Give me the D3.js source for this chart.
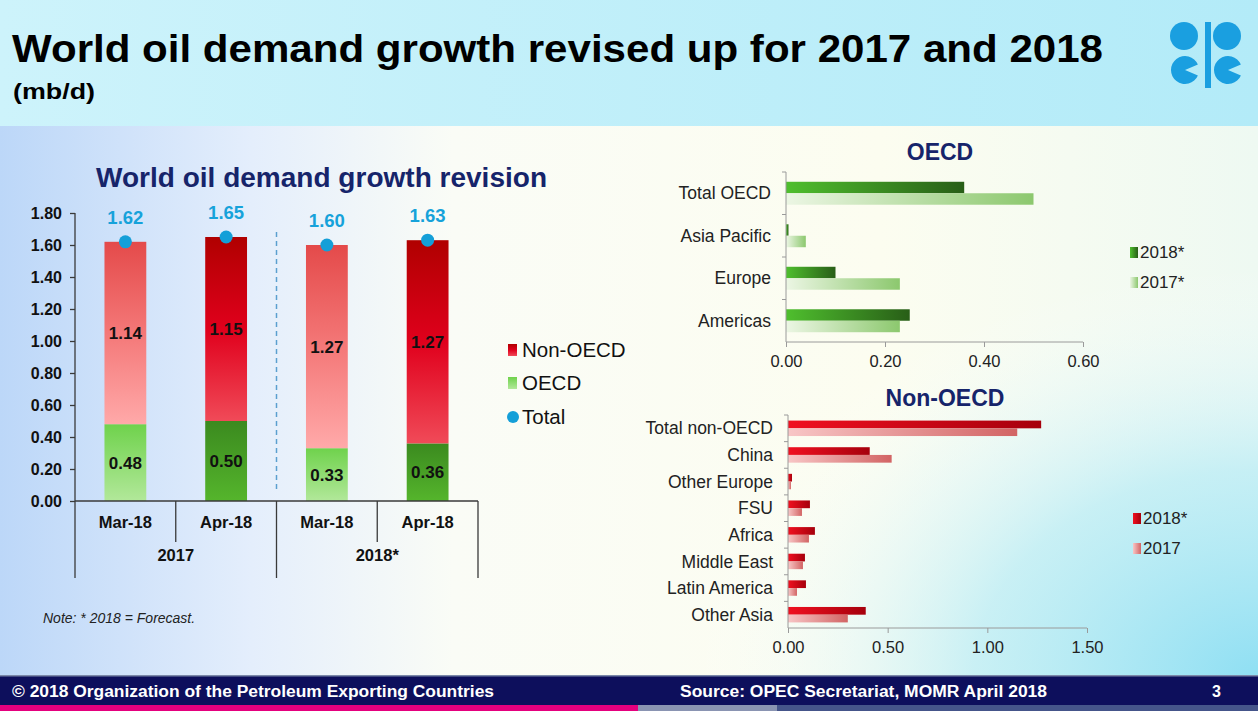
<!DOCTYPE html>
<html><head><meta charset="utf-8">
<script src="https://cdn.jsdelivr.net/npm/d3@7"></script>
<style>body{margin:0;overflow:hidden;background:#fff}svg{display:block;font-family:"Liberation Sans",Arial,sans-serif}</style>
</head><body><svg id="c" width="1258" height="711"></svg>
<script>
// ---------- data ----------
const revisionMonths = ["Mar-18", "Apr-18", "Mar-18", "Apr-18"];
const revisionYears = ["2017", "2018*"];
const oecdRevision = [0.48, 0.50, 0.33, 0.36];
const nonOecdRevision = [1.14, 1.15, 1.27, 1.27];
const totalRevision = [1.62, 1.65, 1.60, 1.63];
const revisionTicks = [0, 0.2, 0.4, 0.6, 0.8, 1.0, 1.2, 1.4, 1.6, 1.8];

const oecdRegions = ["Total OECD", "Asia Pacific", "Europe", "Americas"];
const oecd2018 = [0.36, 0.005, 0.10, 0.25];
const oecd2017 = [0.50, 0.04, 0.23, 0.23];
const oecdTicks = [0, 0.2, 0.4, 0.6];

const nonOecdRegions = ["Total non-OECD", "China", "Other Europe", "FSU", "Africa", "Middle East", "Latin America", "Other Asia"];
const nonOecd2018 = [1.27, 0.41, 0.02, 0.11, 0.135, 0.085, 0.09, 0.39];
const nonOecd2017 = [1.15, 0.52, 0.015, 0.07, 0.105, 0.075, 0.045, 0.30];
const nonOecdTicks = [0, 0.5, 1.0, 1.5];

// ---------- setup ----------
const svg = d3.select("#c");
const defs = svg.append("defs");
function lin(id, stops, x2, y2) {
  const g = defs.append("linearGradient").attr("id", id)
    .attr("x1", 0).attr("y1", 0).attr("x2", x2).attr("y2", y2);
  stops.forEach(s => g.append("stop").attr("offset", s[0]).attr("stop-color", s[1]).attr("stop-opacity", s[2] == null ? 1 : s[2]));
}
lin("hdr", [[0, "#cdf3fb"], [1, "#b3ebf8"]], 1, 0);
lin("body", [[0, "#bcd7f8"], [0.2, "#e4eefc"], [0.36, "#fafcf6"], [0.7, "#fcfdf0"], [1, "#eef9f2"]], 1, 0);
const rg = defs.append("radialGradient").attr("id", "cyan").attr("cx", 1).attr("cy", 1).attr("r", 0.75);
rg.append("stop").attr("offset", 0).attr("stop-color", "#8fdff3").attr("stop-opacity", 1);
rg.append("stop").attr("offset", 0.5).attr("stop-color", "#b5ebf6").attr("stop-opacity", 0.7);
rg.append("stop").attr("offset", 1).attr("stop-color", "#ffffff").attr("stop-opacity", 0);
lin("redLight", [[0, "#e44a4a"], [0.5, "#f47878"], [1, "#ffa9a9"]], 0, 1);
lin("redDark", [[0, "#b00000"], [0.5, "#e0001c"], [1, "#f04a58"]], 0, 1);
lin("grnLight", [[0, "#6fd24c"], [1, "#b2e89a"]], 0, 1);
lin("grnDark", [[0, "#3b8a1f"], [1, "#55b52c"]], 0, 1);
lin("hg18", [[0, "#4fbf2e"], [1, "#285e17"]], 1, 0);
lin("hg17", [[0, "#ecf6e4"], [1, "#8cc86e"]], 1, 0);
lin("hr18", [[0, "#f01020"], [1, "#a6000c"]], 1, 0);
lin("hr17", [[0, "#f8c6c6"], [1, "#d26464"]], 1, 0);

// backgrounds
svg.append("rect").attr("x", 0).attr("y", 0).attr("width", 1258).attr("height", 126).attr("fill", "url(#hdr)");
svg.append("rect").attr("x", 0).attr("y", 126).attr("width", 1258).attr("height", 551).attr("fill", "url(#body)");
svg.append("rect").attr("x", 500).attr("y", 126).attr("width", 758).attr("height", 551).attr("fill", "url(#cyan)");
svg.append("rect").attr("x", 0).attr("y", 676).attr("width", 1258).attr("height", 30).attr("fill", "#0d0f5c");
svg.append("rect").attr("x", 0).attr("y", 675).attr("width", 1258).attr("height", 1.5).attr("fill", "#7b88a8");
svg.append("rect").attr("x", 0).attr("y", 705).attr("width", 638).attr("height", 6).attr("fill", "#e5007e");
svg.append("rect").attr("x", 638).attr("y", 705).attr("width", 139).attr("height", 6).attr("fill", "#8a94b2");
svg.append("rect").attr("x", 777).attr("y", 705).attr("width", 481).attr("height", 6).attr("fill", "#45558a");

// header text
svg.append("text").attr("x", 12).attr("y", 62).attr("font-size", 38).attr("font-weight", "bold").attr("fill", "#000")
  .attr("textLength", 1091).attr("lengthAdjust", "spacingAndGlyphs")
  .text("World oil demand growth revised up for 2017 and 2018");
svg.append("text").attr("x", 13).attr("y", 99).attr("font-size", 22.5).attr("font-weight", "bold").attr("fill", "#000")
  .attr("textLength", 82).attr("lengthAdjust", "spacingAndGlyphs")
  .text("(mb/d)");

// logo
const logo = svg.append("g").attr("fill", "#1a9fe0");
logo.append("circle").attr("cx", 1184).attr("cy", 36).attr("r", 14);
logo.append("circle").attr("cx", 1227).attr("cy", 36).attr("r", 14);
logo.append("rect").attr("x", 1205).attr("y", 22).attr("width", 6).attr("height", 66);
const notch = d3.arc().innerRadius(0).outerRadius(14).startAngle(Math.PI / 2 + 0.4).endAngle(Math.PI / 2 - 0.4 + 2 * Math.PI);
logo.append("path").attr("d", notch()).attr("transform", "translate(1185,70)");
logo.append("path").attr("d", notch()).attr("transform", "translate(1228,70)");

// footer text
svg.append("text").attr("x", 12).attr("y", 697).attr("font-size", 16).attr("font-weight", "bold").attr("fill", "#fff")
  .attr("textLength", 482).attr("lengthAdjust", "spacingAndGlyphs")
  .text("© 2018 Organization of the Petroleum Exporting Countries");
svg.append("text").attr("x", 680).attr("y", 697).attr("font-size", 16).attr("font-weight", "bold").attr("fill", "#fff")
  .attr("textLength", 367).attr("lengthAdjust", "spacingAndGlyphs")
  .text("Source: OPEC Secretariat, MOMR April 2018");
svg.append("text").attr("x", 1212).attr("y", 697).attr("font-size", 16).attr("font-weight", "bold").attr("fill", "#fff").text("3");

// ---------- left chart ----------
const L = svg.append("g");
L.append("text").attr("x", 96).attr("y", 187).attr("font-size", 27.5).attr("font-weight", "bold")
  .attr("textLength", 451).attr("lengthAdjust", "spacingAndGlyphs")
  .attr("fill", "#16246a").text("World oil demand growth revision");

const idx = d3.range(revisionMonths.length);
const xL = d3.scaleBand().domain(idx).range([75, 478]).padding(0);
const yL = d3.scaleLinear().domain([0, 1.8]).range([501, 213]);
const bw = xL.bandwidth() * 0.415;
const bx = i => xL(i) + (xL.bandwidth() - bw) / 2;
const isDark = i => revisionMonths[i] === "Apr-18";

const yAx = L.append("g").attr("transform", "translate(75,0)")
  .call(d3.axisLeft(yL).tickValues(revisionTicks).tickFormat(d3.format(".2f")).tickSize(5).tickPadding(8));
yAx.selectAll("path,line").attr("stroke", "#3a3a3a").attr("stroke-width", 1.3);
yAx.select(".domain").attr("d", `M0,${yL(1.8)}V${yL(0)}`);
yAx.selectAll("text").attr("font-size", 16).attr("font-weight", "bold").attr("fill", "#111").attr("font-family", "Liberation Sans, Arial");

// dashed divider
L.append("line").attr("x1", xL(2)).attr("x2", xL(2)).attr("y1", 232).attr("y2", 492)
  .attr("stroke", "#5b9fcf").attr("stroke-width", 1.5).attr("stroke-dasharray", "5,4");

// bars
idx.forEach(i => {
  L.append("rect").attr("x", bx(i)).attr("width", bw).attr("y", yL(oecdRevision[i])).attr("height", yL(0) - yL(oecdRevision[i]))
    .attr("fill", isDark(i) ? "url(#grnDark)" : "url(#grnLight)");
  const top = oecdRevision[i] + nonOecdRevision[i];
  L.append("rect").attr("x", bx(i)).attr("width", bw).attr("y", yL(top)).attr("height", yL(oecdRevision[i]) - yL(top))
    .attr("fill", isDark(i) ? "url(#redDark)" : "url(#redLight)");
  const cx = xL(i) + xL.bandwidth() / 2;
  L.append("text").attr("x", cx).attr("y", yL(oecdRevision[i] / 2)).attr("dy", "0.36em").attr("text-anchor", "middle")
    .attr("font-size", 17).attr("font-weight", "bold").attr("fill", "#111").text(d3.format(".2f")(oecdRevision[i]));
  L.append("text").attr("x", cx).attr("y", yL(oecdRevision[i] + nonOecdRevision[i] / 2)).attr("dy", "0.36em").attr("text-anchor", "middle")
    .attr("font-size", 17).attr("font-weight", "bold").attr("fill", "#111").text(d3.format(".2f")(nonOecdRevision[i]));
  L.append("circle").attr("cx", cx).attr("cy", yL(totalRevision[i])).attr("r", 6.5).attr("fill", "#149fd8");
  L.append("text").attr("x", cx).attr("y", yL(totalRevision[i]) - 18).attr("text-anchor", "middle")
    .attr("font-size", 18.5).attr("font-weight", "bold").attr("fill", "#16a2da").text(d3.format(".2f")(totalRevision[i]));
});

// category axis
L.append("line").attr("x1", 75).attr("x2", 478).attr("y1", yL(0)).attr("y2", yL(0)).attr("stroke", "#3a3a3a").attr("stroke-width", 1.3);
d3.range(revisionMonths.length + 1).forEach(k => {
  const x = k < revisionMonths.length ? xL(k) : xL.range()[1];
  const long = k % 2 === 0;
  L.append("line").attr("x1", x).attr("x2", x).attr("y1", yL(0)).attr("y2", long ? 578 : 542)
    .attr("stroke", "#3a3a3a").attr("stroke-width", 1.3);
});
idx.forEach(i => {
  L.append("text").attr("x", xL(i) + xL.bandwidth() / 2).attr("y", 528).attr("text-anchor", "middle")
    .attr("font-size", 16.5).attr("font-weight", "bold").attr("fill", "#111").text(revisionMonths[i]);
});
revisionYears.forEach((yr, j) => {
  L.append("text").attr("x", xL(j * 2 + 1)).attr("y", 561).attr("text-anchor", "middle")
    .attr("font-size", 16.5).attr("font-weight", "bold").attr("fill", "#111").text(yr);
});

// left legend
const lg = L.append("g");
lg.append("rect").attr("x", 508).attr("y", 344).attr("width", 9).attr("height", 12).attr("fill", "url(#redDark)");
lg.append("text").attr("x", 522).attr("y", 357).attr("font-size", 20.5).attr("fill", "#111").text("Non-OECD");
lg.append("rect").attr("x", 508).attr("y", 377).attr("width", 9).attr("height", 12).attr("fill", "url(#grnLight)");
lg.append("text").attr("x", 522).attr("y", 390).attr("font-size", 20.5).attr("fill", "#111").text("OECD");
lg.append("circle").attr("cx", 513).attr("cy", 417).attr("r", 6).attr("fill", "#149fd8");
lg.append("text").attr("x", 522).attr("y", 424).attr("font-size", 20.5).attr("fill", "#111").text("Total");

L.append("text").attr("x", 43).attr("y", 623).attr("font-size", 14).attr("font-style", "italic").attr("fill", "#222")
  .text("Note: * 2018 = Forecast.");

// ---------- horizontal charts ----------
function hChart(cfg) {
  const g = svg.append("g");
  g.append("text").attr("x", cfg.titleX).attr("y", cfg.titleY).attr("text-anchor", "middle").attr("font-size", 23)
    .attr("font-weight", "bold").attr("fill", "#16246a").text(cfg.title);
  const y = d3.scaleBand().domain(cfg.cats).range(cfg.yRange);
  const x = d3.scaleLinear().domain([0, cfg.ticks[cfg.ticks.length - 1]]).range(cfg.xRange);
  const bh = y.bandwidth() * cfg.bhFrac;
  cfg.cats.forEach((c, i) => {
    const mid = y(c) + y.bandwidth() / 2;
    g.append("rect").attr("x", x(0)).attr("y", mid - bh).attr("width", x(cfg.a[i]) - x(0)).attr("height", bh).attr("fill", cfg.fa);
    g.append("rect").attr("x", x(0)).attr("y", mid).attr("width", x(cfg.b[i]) - x(0)).attr("height", bh).attr("fill", cfg.fb);
  });
  const xa = g.append("g").attr("transform", `translate(0,${cfg.yRange[1]})`)
    .call(d3.axisBottom(x).tickValues(cfg.ticks).tickFormat(d3.format(".2f")).tickSize(5).tickPadding(8));
  xa.selectAll("path,line").attr("stroke", "#9a9a9a");
  xa.select(".domain").attr("d", `M${cfg.xRange[0]},0H${cfg.xRange[1]}`);
  xa.selectAll("text").attr("font-size", 16.5).attr("fill", "#222").attr("font-family", "Liberation Sans, Arial");
  // y axis line with boundary ticks
  g.append("line").attr("x1", x(0)).attr("x2", x(0)).attr("y1", cfg.yRange[0]).attr("y2", cfg.yRange[1]).attr("stroke", "#9a9a9a");
  cfg.cats.forEach(c => g.append("line").attr("x1", x(0) - 4).attr("x2", x(0)).attr("y1", y(c)).attr("y2", y(c)).attr("stroke", "#9a9a9a"));
  cfg.cats.forEach(c => g.append("text").attr("x", x(0) - 15).attr("y", y(c) + y.bandwidth() / 2).attr("dy", "0.35em")
    .attr("text-anchor", "end").attr("font-size", 17.5).attr("fill", "#222").text(c));
  // legend
  cfg.legend.forEach((l, k) => {
    g.append("rect").attr("x", cfg.legX).attr("y", cfg.legY + k * 30 - 11).attr("width", 8).attr("height", 11).attr("fill", l[1]);
    g.append("text").attr("x", cfg.legX + 10).attr("y", cfg.legY + k * 30).attr("font-size", 17).attr("fill", "#222").text(l[0]);
  });
}

hChart({ title: "OECD", titleX: 940, titleY: 160, cats: oecdRegions, ticks: oecdTicks, a: oecd2018, b: oecd2017,
  yRange: [172, 342], xRange: [786, 1083], bhFrac: 0.27, fa: "url(#hg18)", fb: "url(#hg17)",
  legend: [["2018*", "url(#hg18)"], ["2017*", "url(#hg17)"]], legX: 1130, legY: 258 });

hChart({ title: "Non-OECD", titleX: 945, titleY: 406, cats: nonOecdRegions, ticks: nonOecdTicks, a: nonOecd2018, b: nonOecd2017,
  yRange: [415, 628], xRange: [788, 1087], bhFrac: 0.29, fa: "url(#hr18)", fb: "url(#hr17)",
  legend: [["2018*", "url(#hr18)"], ["2017", "url(#hr17)"]], legX: 1133, legY: 524 });
</script></body></html>
